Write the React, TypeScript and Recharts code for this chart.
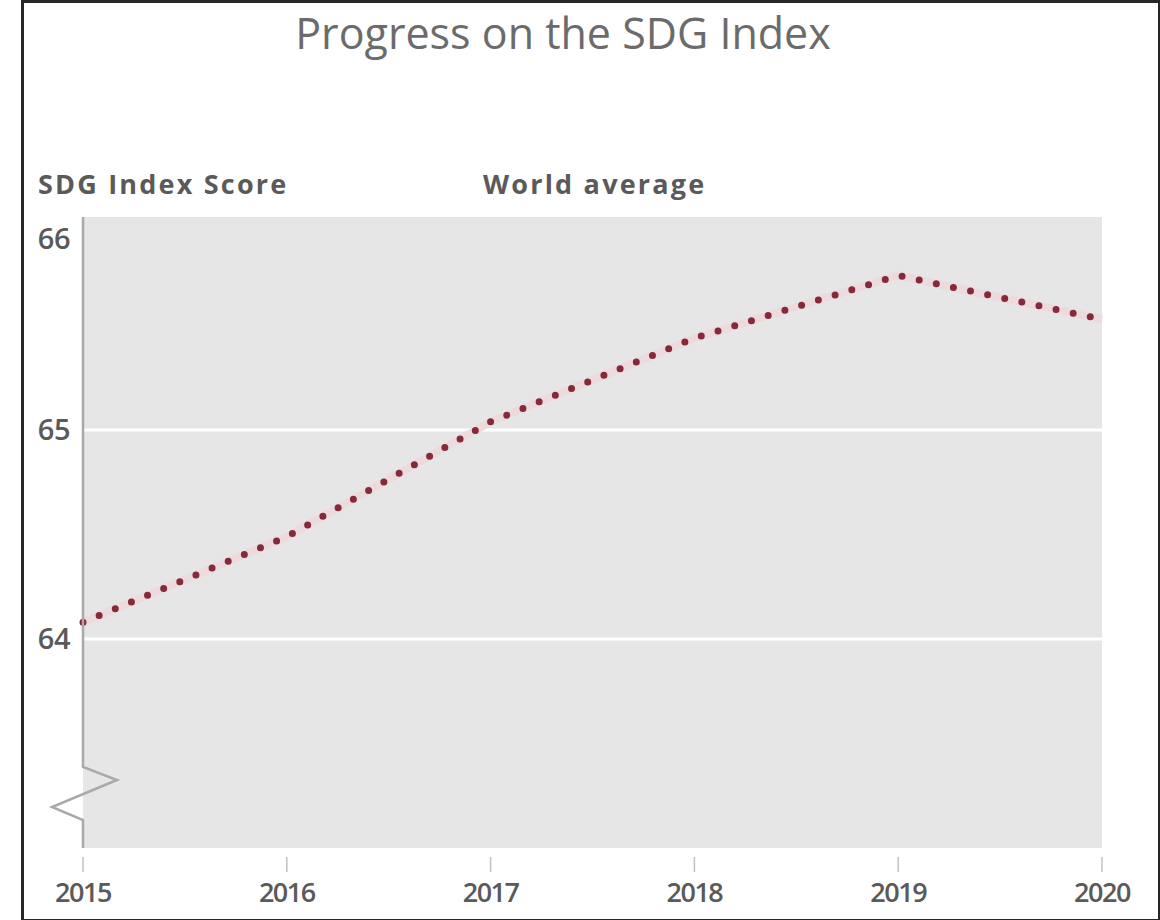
import React from 'react';
import { LineChart, Line, XAxis, YAxis, CartesianGrid } from 'recharts';

const years: string[] = ['2015', '2016', '2017', '2018', '2019', '2020'];
const worldAverage: number[] = [64.08, 64.49, 65.04, 65.44, 65.74, 65.53];
const yTicks: number[] = [64, 65, 66];
const gridValues: number[] = [64, 65];

const data = years.map((year, i) => ({ year, score: worldAverage[i] }));

const FONT = '"Open Sans", "Noto Sans", sans-serif';
const TEXT = '#5a5a5a';

// plot box, matched to the reference
const W = 1160;
const H = 920;
const PLOT_LEFT = 83;
const PLOT_RIGHT = 1102;
const PLOT_TOP = 217;
const PLOT_BOTTOM = 848;

const YTick = (props: any) => {
  const { x, y, payload } = props;
  const shift = payload.value === 66 ? 18 : 0;
  return (
    <text x={x} y={y + shift} dy={10} textAnchor="end" fill={TEXT}
      fontFamily={FONT} fontSize={29} fontWeight={600} letterSpacing={-0.5}>
      {payload.value}
    </text>
  );
};

const XTick = (props: any) => {
  const { x, payload } = props;
  return (
    <g>
      <line x1={x} x2={x} y1={PLOT_BOTTOM + 9} y2={PLOT_BOTTOM + 24} stroke="#c0c0c0" strokeWidth={1.5} />
      <text x={x} y={PLOT_BOTTOM + 54} textAnchor="middle" fill={TEXT}
        fontFamily={FONT} fontSize={27} fontWeight={600} letterSpacing={-1.5}>
        {payload.value}
      </text>
    </g>
  );
};

export default function App() {
  return (
    <div style={{ position: 'absolute', left: 0, top: 0, width: W, height: H, background: '#fff', overflow: 'hidden' }}>
      <div style={{ position: 'absolute', left: 21, top: 0, width: 1134, height: 916, border: '3px solid #262626' }} />
      <div style={{ position: 'absolute', left: -17, width: W, top: 3, textAlign: 'center',
        fontFamily: FONT, fontSize: 43, color: '#6b6b6b', letterSpacing: 0 }}>
        Progress on the SDG Index
      </div>
      <div style={{ position: 'absolute', left: 38, top: 165, fontFamily: FONT, fontSize: 27, fontWeight: 700,
        color: TEXT, letterSpacing: 2.2 }}>
        SDG Index Score
      </div>
      <div style={{ position: 'absolute', left: 483, top: 165, fontFamily: FONT, fontSize: 27, fontWeight: 700,
        color: TEXT, letterSpacing: 2.2 }}>
        World average
      </div>
      <LineChart width={W} height={H} data={data}
        margin={{ top: PLOT_TOP, right: W - PLOT_RIGHT, bottom: 12, left: 0 }}
        style={{ position: 'absolute', left: 0, top: 0 }}>
        <CartesianGrid fill="#e6e6e6" vertical={false} horizontalValues={gridValues}
          stroke="#ffffff" strokeWidth={3} />
        <XAxis dataKey="year" height={H - PLOT_BOTTOM - 12} axisLine={false} tickLine={false}
          tickSize={0} tickMargin={0} tick={<XTick />} interval={0} />
        <YAxis domain={[63, 66.02]} ticks={yTicks} width={PLOT_LEFT} axisLine={false} tickLine={false}
          tickSize={0} tickMargin={13} tick={<YTick />} allowDataOverflow />
        <Line type="linear" dataKey="score" stroke="#ecdadc" strokeWidth={8} dot={false}
          activeDot={false} isAnimationActive={false} />
        <Line type="linear" dataKey="score" name="World average" stroke="#86293a" strokeWidth={7}
          strokeDasharray="0 17.5" strokeLinecap="round" dot={false} activeDot={false}
          isAnimationActive={false} />
      </LineChart>
      <svg width={W} height={H} style={{ position: 'absolute', left: 0, top: 0, pointerEvents: 'none' }}>
        <path
          d={`M${PLOT_LEFT} ${PLOT_TOP} L${PLOT_LEFT} 767 L117 780 L52 807 L${PLOT_LEFT} 820 L${PLOT_LEFT} ${PLOT_BOTTOM}`}
          fill="none" stroke="#a9a9a9" strokeWidth={2.5} strokeLinejoin="miter" />
      </svg>
    </div>
  );
}
